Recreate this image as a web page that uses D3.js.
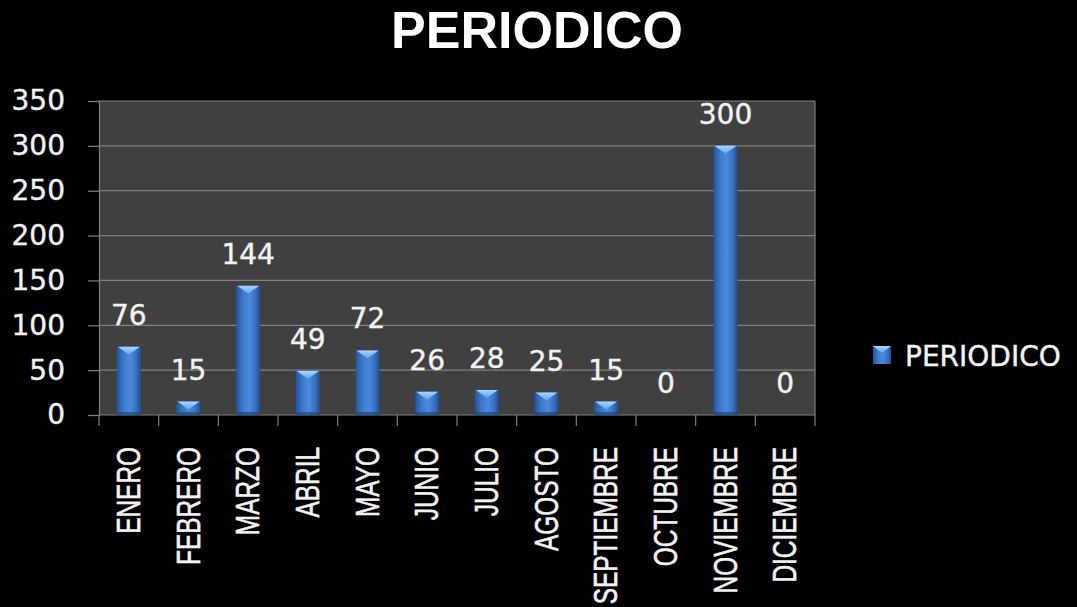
<!DOCTYPE html>
<html>
<head>
<meta charset="utf-8">
<script src="https://cdn.jsdelivr.net/npm/d3@7/dist/d3.min.js"></script>
<style>
html,body{margin:0;padding:0;background:#000;}
svg{display:block;}
</style>
</head>
<body>
<svg id="chart" width="1077" height="607"></svg>
<script>
const categories = ["ENERO","FEBRERO","MARZO","ABRIL","MAYO","JUNIO","JULIO","AGOSTO","SEPTIEMBRE","OCTUBRE","NOVIEMBRE","DICIEMBRE"];
const values = [76,15,144,49,72,26,28,25,15,0,300,0];
const yTicks = [0,50,100,150,200,250,300,350];
const seriesName = "PERIODICO";
const title = "PERIODICO";

const svg = d3.select("#chart");
const W = 1077, H = 607;
const m = {left:99, right:262, top:101, bottom:192};
const pw = W - m.left - m.right, ph = H - m.top - m.bottom;

svg.append("rect").attr("width",W).attr("height",H).attr("fill","#000");

const defs = svg.append("defs");
const g1 = defs.append("linearGradient").attr("id","barGrad").attr("x1","0").attr("x2","1").attr("y1","0").attr("y2","0");
[["0%","#24559a"],["30%","#3d7ccc"],["55%","#4a8ade"],["80%","#3872c2"],["100%","#20508f"]].forEach(s=>g1.append("stop").attr("offset",s[0]).attr("stop-color",s[1]));
const g2 = defs.append("linearGradient").attr("id","capGrad").attr("x1","0").attr("x2","0").attr("y1","0").attr("y2","1");
[["0%","#a9d6ff"],["100%","#5fa2ec"]].forEach(s=>g2.append("stop").attr("offset",s[0]).attr("stop-color",s[1]));

const x = d3.scaleBand().domain(categories).range([m.left, m.left+pw]).paddingInner(0.6).paddingOuter(0.3);
const xOuter = d3.scaleBand().domain(categories).range([m.left, m.left+pw]);
const y = d3.scaleLinear().domain([0,350]).range([m.top+ph, m.top]);

// plot background
svg.append("rect").attr("x",m.left).attr("y",m.top).attr("width",pw).attr("height",ph).attr("fill","#404040");

// gridlines
svg.append("g").selectAll("line").data(yTicks.filter(d=>d>0)).join("line")
  .attr("x1",m.left).attr("x2",m.left+pw).attr("y1",d=>y(d)).attr("y2",d=>y(d))
  .attr("stroke","#808080").attr("stroke-width",1.2);
// right border
svg.append("line").attr("x1",m.left+pw).attr("x2",m.left+pw).attr("y1",m.top).attr("y2",m.top+ph).attr("stroke","#808080").attr("stroke-width",1.2);

// y axis
const yAxis = svg.append("g").attr("transform",`translate(${m.left},0)`)
  .call(d3.axisLeft(y).tickValues(yTicks).tickSize(11).tickPadding(23));
yAxis.select(".domain").attr("stroke","#808080").attr("stroke-width",1.2);
yAxis.selectAll(".tick line").attr("stroke","#808080").attr("stroke-width",1.2);
yAxis.selectAll(".tick text").attr("fill","#f2f2f2").attr("font-family","DejaVu Sans").attr("font-size","28px")
  .attr("stroke","#f2f2f2").attr("stroke-width",0.4);

// x axis ticks at band boundaries
const bounds = categories.map(c=>xOuter(c)).concat([m.left+pw]);
svg.append("line").attr("x1",m.left).attr("x2",m.left+pw).attr("y1",y(0)).attr("y2",y(0)).attr("stroke","#808080").attr("stroke-width",1.2);
svg.append("g").selectAll("line").data(bounds).join("line")
  .attr("x1",d=>d).attr("x2",d=>d).attr("y1",y(0)).attr("y2",y(0)+11)
  .attr("stroke","#808080").attr("stroke-width",1.2);

// bars
const bars = svg.append("g").selectAll("g").data(categories.map((c,i)=>({c,v:values[i]}))).join("g");
bars.filter(d=>d.v>0).append("rect")
  .attr("x",d=>x(d.c)).attr("y",d=>y(d.v)).attr("width",x.bandwidth()).attr("height",d=>y(0)-y(d.v))
  .attr("fill","url(#barGrad)");
bars.filter(d=>d.v>0).append("path")
  .attr("d",d=>{const x0=x(d.c), x1=x0+x.bandwidth(), t=y(d.v), h=Math.min(8,(y(0)-y(d.v))*0.6); return `M${x0+1},${t}L${x1-1},${t}L${(x0+x1)/2},${t+h}Z`;})
  .attr("fill","url(#capGrad)");
bars.filter(d=>d.v>0).append("rect")
  .attr("x",d=>x(d.c)).attr("y",y(0)-3).attr("width",x.bandwidth()).attr("height",3)
  .attr("fill","#1d4680").attr("opacity",0.7);

// data labels
bars.append("text")
  .attr("x",d=>x(d.c)+x.bandwidth()/2).attr("y",d=>y(d.v)-22)
  .attr("text-anchor","middle").attr("fill","#f2f2f2")
  .attr("stroke","#f2f2f2").attr("stroke-width",0.4)
  .attr("font-family","DejaVu Sans").attr("font-size","28px")
  .text(d=>d.v);

// category labels
svg.append("g").selectAll("text").data(categories).join("text")
  .attr("transform",d=>`translate(${x(d)+x.bandwidth()/2+11},447) rotate(-90) scale(0.74,1)`)
  .attr("text-anchor","end").attr("fill","#f2f2f2")
  .attr("stroke","#f2f2f2").attr("stroke-width",0.6)
  .attr("font-family","Liberation Sans").attr("font-size","33px")
  .text(d=>d);

// title
svg.append("text").attr("x",537).attr("y",48).attr("text-anchor","middle")
  .attr("fill","#fff").attr("font-family","Liberation Sans").attr("font-weight","bold").attr("font-size","52px")
  .text(title);

// legend
const lg = svg.append("g").attr("transform","translate(873,346)");
lg.append("rect").attr("width",18).attr("height",18).attr("fill","url(#barGrad)");
lg.append("path").attr("d","M0,0L18,0L9,7Z").attr("fill","url(#capGrad)");
lg.append("text").attr("x",32).attr("y",20).attr("fill","#f2f2f2")
  .attr("stroke","#f2f2f2").attr("stroke-width",0.4)
  .attr("font-family","DejaVu Sans").attr("font-size","28px").text(seriesName);
</script>
</body>
</html>
